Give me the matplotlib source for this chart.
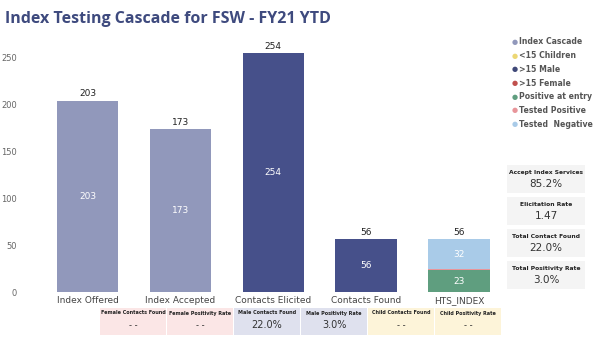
import numpy as np
import matplotlib.pyplot as plt
from matplotlib.patches import FancyBboxPatch

categories = ["Index Offered", "Index Accepted", "Contacts Elicited", "Contacts Found", "HTS_INDEX"]
cascade = [203, 173, 0, 0, 0]
male = [0, 0, 254, 56, 0]
positive_entry = [0, 0, 0, 0, 23]
tested_positive = [0, 0, 0, 0, 1]
tested_negative = [0, 0, 0, 0, 32]
totals = [203, 173, 254, 56, 56]

legend_labels = ["Index Cascade", "<15 Children", ">15 Male", ">15 Female",
                 "Positive at entry", "Tested Positive", "Tested  Negative"]
legend_colors = ["#9198bb", "#ecd774", "#3f4878", "#c0504d",
                 "#5f9e7f", "#e8959a", "#a9cbe8"]

kpi_titles = ["Accept Index Services", "Elicitation Rate", "Total Contact Found", "Total Positivity Rate"]
kpi_values = ["85.2%", "1.47", "22.0%", "3.0%"]

card_titles = ["Female Contacts Found", "Female Positivity Rate", "Male Contacts Found",
               "Male Positivity Rate", "Child Contacts Found", "Child Positivity Rate"]
card_values = ["- -", "- -", "22.0%", "3.0%", "- -", "- -"]
card_colors = ["#fbe6e6", "#fbe6e6", "#dfe1ee", "#dfe1ee", "#fdf4d9", "#fdf4d9"]

fig = plt.figure(figsize=(6.04, 3.44), dpi=100)
fig.patch.set_facecolor("white")

title_color = "#3e4a7e"
fig.text(0.008, 0.945, "Index Testing Cascade for FSW - FY21 YTD", fontsize=11.5,
         fontweight="bold", color=title_color, va="center", family="Open Sans")

ax = fig.add_axes([0.053, 0.151, 0.799, 0.724])
x = np.arange(len(categories))
w = 0.66
ax.bar(x, cascade, w, color="#9198bb")
ax.bar(x, male, w, color="#46508a")
ax.bar(x, positive_entry, w, color="#5f9e7f")
b2 = np.array(positive_entry)
ax.bar(x, tested_positive, w, bottom=b2, color="#e8959a")
b3 = b2 + np.array(tested_positive)
ax.bar(x, tested_negative, w, bottom=b3, color="#a9cbe8")

for i, t in enumerate(totals):
    ax.text(i, t + 3, str(t), ha="center", va="bottom", fontsize=6.5, color="#222222")
for i, v in enumerate(cascade):
    if v:
        ax.text(i, v / 2, str(v), ha="center", va="center", fontsize=6.5, color="white")
for i, v in enumerate(male):
    if v:
        ax.text(i, v / 2, str(v), ha="center", va="center", fontsize=6.5, color="white")
ax.text(4, positive_entry[4] / 2, str(positive_entry[4]), ha="center", va="center",
        fontsize=6.5, color="white")
ax.text(4, b3[4] + tested_negative[4] / 2, str(tested_negative[4]), ha="center",
        va="center", fontsize=6.5, color="white")

ax.set_xlim(-0.6, 4.6)
ax.set_ylim(0, 265)
ax.set_yticks([0, 50, 100, 150, 200, 250])
ax.set_xticks(x)
ax.set_xticklabels(categories, fontsize=6.5, color="#444444")
ax.tick_params(axis="y", labelsize=6, colors="#666666", length=0, pad=11)
ax.tick_params(axis="x", length=0, pad=3)
for s in ax.spines.values():
    s.set_visible(False)

# legend on the right
for i, (lab, col) in enumerate(zip(legend_labels, legend_colors)):
    y = 0.878 - i * 0.0398
    fig.text(0.852, y, "●", color=col, fontsize=5, va="center", ha="center")
    fig.text(0.860, y, lab, color="#555555", fontsize=5.6, va="center", fontweight="bold")

# KPI cards
for i, (t, v) in enumerate(zip(kpi_titles, kpi_values)):
    top = 1 - (165 + i * 32) / 344
    h = 28 / 344
    box = FancyBboxPatch((507 / 604, top - h), 78 / 604, h, boxstyle="square,pad=0",
                         transform=fig.transFigure, facecolor="#f4f4f4", edgecolor="none")
    fig.patches.append(box)
    fig.text(546 / 604, top - 0.022, t, fontsize=4.3, fontweight="bold", ha="center",
             va="center", color="#222222")
    fig.text(546 / 604, top - 0.056, v, fontsize=7.5, ha="center", va="center", color="#333333")

# breakdown cards along the bottom
for i, (t, v, c) in enumerate(zip(card_titles, card_values, card_colors)):
    left = (100 + i * 67) / 604
    box = FancyBboxPatch((left, 9 / 344), 66 / 604, 27 / 344, boxstyle="square,pad=0",
                         transform=fig.transFigure, facecolor=c, edgecolor="none")
    fig.patches.append(box)
    fig.text(left + 33 / 604, 1 - 313 / 344, t, fontsize=3.5, fontweight="bold",
             ha="center", va="center", color="#222222")
    fig.text(left + 33 / 604, 1 - 325 / 344, v, fontsize=7 if "%" in v else 6,
             ha="center", va="center", color="#333333")

fig.savefig("out.png", dpi=100)
